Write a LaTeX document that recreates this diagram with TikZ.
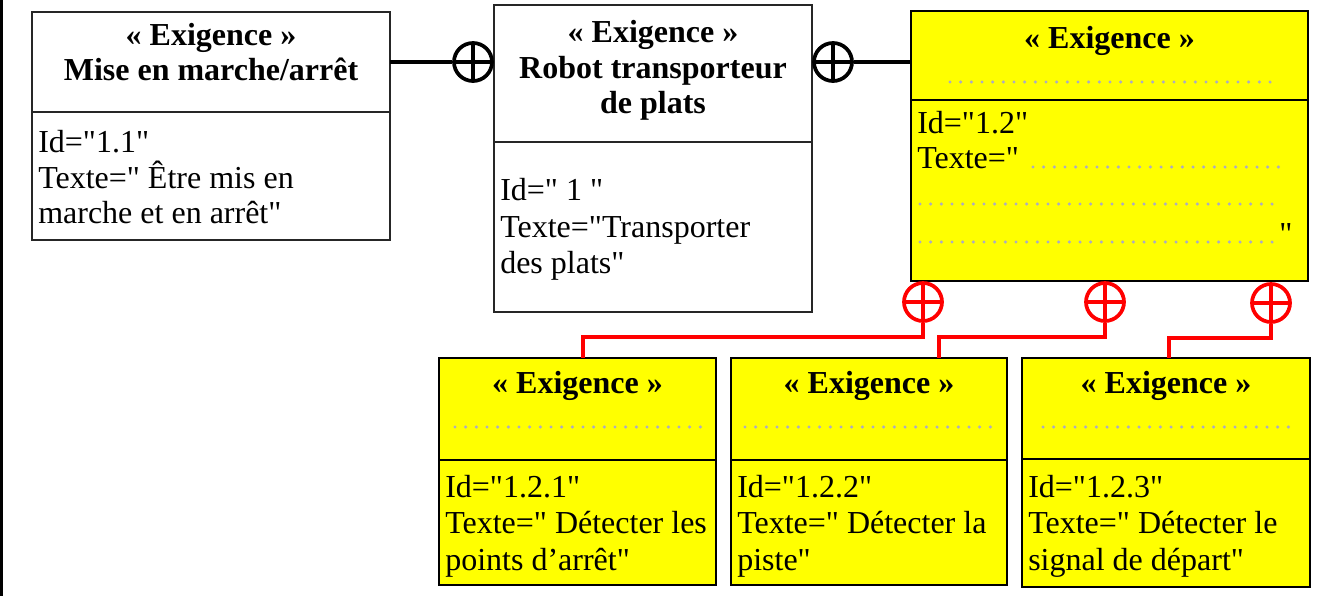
\documentclass[tikz,border=0pt]{standalone}
\usepackage{fontspec}
\setmainfont{Liberation Serif}[Ligatures=TeXOff]
\definecolor{dotgrey}{RGB}{172,172,192}
\definecolor{reqyellow}{RGB}{255,255,0}
\definecolor{linkred}{RGB}{255,0,0}
\tikzset{
  cbox/.style={draw, line width=1.6pt, inner sep=0pt, outer sep=0pt, anchor=north west},
  wbox/.style={cbox, fill=white, draw=black!85},
  ybox/.style={cbox, fill=reqyellow, draw=black, line width=1.9pt},
  ttl/.style={anchor=base, inner sep=0pt, font=\fontsize{24}{28}\selectfont\bfseries},
  att/.style={anchor=base west, inner sep=0pt, font=\fontsize{24}{28}\selectfont},
  dotrow/.style={draw=dotgrey, line width=2.6pt, line cap=round, dash pattern=on 0pt off 8pt},
  plusc/.style={circle, draw=#1, line width=2.8pt, minimum size=28.5pt, inner sep=0pt,
    path picture={\draw[#1, line width=2.8pt]
      (path picture bounding box.north) -- (path picture bounding box.south)
      (path picture bounding box.west) -- (path picture bounding box.east);}},
  blk/.style={draw=black, line width=3pt},
  rd/.style={draw=linkred, line width=2.5pt},
}
\begin{document}
\begin{tikzpicture}[x=0.75pt, y=-0.75pt]
\useasboundingbox (0,0) rectangle (1317,596);
\draw[line width=2.2pt] (1.5,0) -- (1.5,596);

% Box A : 1.1
\node[wbox, minimum width=358*0.75pt, minimum height=100*0.75pt] (Ah) at (32,12) {};
\node[wbox, minimum width=358*0.75pt, minimum height=128*0.75pt] (Ab) at (32,112) {};
\node[ttl] (At1) at (211,45) {« Exigence »};
\node[ttl] (At2) at (211,80) {Mise en marche/arrêt};
\node[att] (Aa1) at (38,152) {Id="1.1"};
\node[att] (Aa2) at (38,188) {Texte=" Être mis en};
\node[att] (Aa3) at (38,223) {marche et en arrêt"};

% Box B : 1
\node[wbox, minimum width=318*0.75pt, minimum height=137*0.75pt] (Bh) at (494,5) {};
\node[wbox, minimum width=318*0.75pt, minimum height=170*0.75pt] (Bb) at (494,142) {};
\node[ttl] (Bt1) at (653,42) {« Exigence »};
\node[ttl] (Bt2) at (653,78) {Robot transporteur};
\node[ttl] (Bt3) at (653,113) {de plats};
\node[att] (Ba1) at (500,200) {Id=" 1 "};
\node[att] (Ba2) at (500,237) {Texte="Transporter};
\node[att] (Ba3) at (500,273) {des plats"};

% Box C : 1.2
\node[ybox, minimum width=397*0.75pt, minimum height=89*0.75pt] (Ch) at (911,11) {};
\node[ybox, minimum width=397*0.75pt, minimum height=181*0.75pt] (Cb) at (911,100) {};
\node[ttl] (Ct1) at (1109.5,48) {« Exigence »};
\draw[dotrow] (950,82) -- (1271,82);
\node[att] (Ca1) at (917,133) {Id="1.2"};
\node[att] (Ca2) at (917,168) {Texte="};
\draw[dotrow] (1033,167) -- (1281,167);
\draw[dotrow] (920,204) -- (1281,204);
\draw[dotrow] (920,242) -- (1274,242);
\node[att] (Ca3) at (1279,244) {"};

% Box D : 1.2.1
\node[ybox, minimum width=277*0.75pt, minimum height=102*0.75pt] (Dh) at (439,358) {};
\node[ybox, minimum width=277*0.75pt, minimum height=125*0.75pt] (Db) at (439,460) {};
\node[ttl] (Dt1) at (577.5,393) {« Exigence »};
\draw[dotrow] (455,427) -- (703,427);
\node[att] (Da1) at (445,497) {Id="1.2.1"};
\node[att] (Da2) at (445,533) {Texte=" Détecter les};
\node[att] (Da3) at (445,570) {points d’arrêt"};

% Box E : 1.2.2
\node[ybox, minimum width=276*0.75pt, minimum height=102*0.75pt] (Eh) at (731,358) {};
\node[ybox, minimum width=276*0.75pt, minimum height=125*0.75pt] (Eb) at (731,460) {};
\node[ttl] (Et1) at (869,393) {« Exigence »};
\draw[dotrow] (745,427) -- (993,427);
\node[att] (Ea1) at (737,497) {Id="1.2.2"};
\node[att] (Ea2) at (737,533) {Texte=" Détecter la};
\node[att] (Ea3) at (737,570) {piste"};

% Box F : 1.2.3
\node[ybox, minimum width=288*0.75pt, minimum height=101*0.75pt] (Fh) at (1022,358) {};
\node[ybox, minimum width=288*0.75pt, minimum height=128*0.75pt] (Fb) at (1022,459) {};
\node[ttl] (Ft1) at (1166,393) {« Exigence »};
\draw[dotrow] (1043,427) -- (1291,427);
\node[att] (Fa1) at (1028,497) {Id="1.2.3"};
\node[att] (Fa2) at (1028,533) {Texte=" Détecter le};
\node[att] (Fa3) at (1028,570) {signal de départ"};

% containment connectors (black)
\node[plusc=black] (p1) at (473,62) {};
\node[plusc=black] (p2) at (833,62) {};
\draw[blk] (Ah.east) -- (p1);
\draw[blk] (p2) -- (p2 -| Ch.west);

% containment connectors (red)
\node[plusc=linkred] (r1) at (923,302) {};
\node[plusc=linkred] (r2) at (1105,302) {};
\node[plusc=linkred] (r3) at (1271,303) {};
\coordinate (k1) at (583,337);
\coordinate (k2) at (939,337);
\coordinate (k3) at (1169,338);
\draw[rd] (r1.south) |- (k1) -- (k1 |- Dh.north);
\draw[rd] (r2.south) |- (k2) -- (k2 |- Eh.north);
\draw[rd] (r3.south) |- (k3) -- (k3 |- Fh.north);
\end{tikzpicture}
\end{document}
